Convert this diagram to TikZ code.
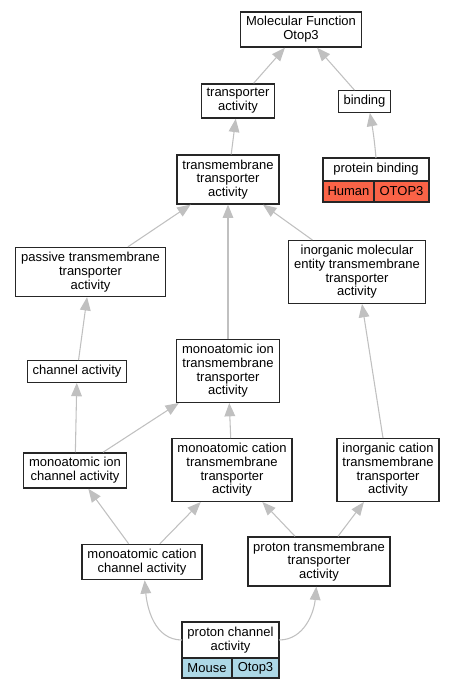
\documentclass[tikz,border=0pt]{standalone}
\usepackage{fontspec}
\setmainfont{Liberation Sans}
\usetikzlibrary{arrows.meta,positioning}
\definecolor{edgegray}{RGB}{192,192,192}
\definecolor{humanred}{RGB}{250,99,71}
\definecolor{mouseblue}{RGB}{173,216,230}

\begin{document}
\begin{tikzpicture}[x=0.75pt,y=-0.75pt,->,>={Triangle[length=10pt,width=8pt]},
      every edge/.style={draw=edgegray,line width=0.8pt},
      term/.style={draw=black!85,line width=1pt,fill=white,align=center,
        inner xsep=4pt,inner ysep=3.5pt,font=\fontsize{9.75}{10.3}\selectfont},
      cell/.style={term,inner sep=0pt,outer sep=0pt,anchor=north west}]
    \useasboundingbox (0,0) rectangle (455,691);
    \node[term] (mf) at (301,29.5) {Molecular Function\\Otop3};
    \node[term] (ta) at (238,101) {transporter\\activity};
    \node[term] (bind) at (364.5,101.5) {binding};
    \node[term,minimum width=79.5pt,minimum height=17.25pt,inner sep=0pt,outer sep=0pt] (pb) at (376,169.5) {protein binding};
    \node[cell,fill=humanred,minimum width=38.25pt,minimum height=15.75pt] (pbh) at (pb.south west) {Human};
    \node[cell,fill=humanred,minimum width=41.25pt,minimum height=15.75pt] (pbg) at (pbh.north east) {OTOP3};
    \node[term] (tta) at (228,179.5) {transmembrane\\transporter\\activity};
    \node[term] (pas) at (90.5,272) {passive transmembrane\\transporter\\activity};
    \node[term] (imt) at (357,272) {inorganic molecular\\entity transmembrane\\transporter\\activity};
    \node[term] (chan) at (77,371.5) {channel activity};
    \node[term] (mit) at (228,371) {monoatomic ion\\transmembrane\\transporter\\activity};
    \node[term] (mica) at (75,470.5) {monoatomic ion\\channel activity};
    \node[term] (mctt) at (232,470) {monoatomic cation\\transmembrane\\transporter\\activity};
    \node[term] (ict) at (388,470) {inorganic cation\\transmembrane\\transporter\\activity};
    \node[term] (mcca) at (142,562) {monoatomic cation\\channel activity};
    \node[term] (ptt) at (319,561.5) {proton transmembrane\\transporter\\activity};
    \node[term,minimum width=72.75pt,minimum height=27pt,inner sep=0pt,outer sep=0pt] (pca) at (230.5,640) {proton channel\\activity};
    \node[cell,fill=mouseblue,minimum width=37.5pt,minimum height=15pt] (pcam) at (pca.south west) {Mouse};
    \node[cell,fill=mouseblue,minimum width=35.25pt,minimum height=15pt] (pcag) at (pcam.north east) {Otop3};
    \path (ta) edge (mf)
          (bind) edge (mf)
          (pb.north) edge[out=95,in=-80] ([xshift=4pt]bind.south)
          (tta) edge (ta)
          (pas) edge (tta)
          (mit) edge (tta)
          (imt) edge (tta)
          (chan) edge (pas)
          (mica) edge (chan)
          (mica) edge (mit)
          (mctt) edge (mit)
          (ict) edge (imt)
          (mcca) edge (mica)
          (mcca) edge (mctt)
          (ptt) edge (mctt)
          (ptt) edge (ict)
          (pca.west) edge[out=180,in=-85] ([xshift=2pt]mcca.south)
          (pca.east) edge[out=0,in=-95] ([xshift=-2pt]ptt.south);
\end{tikzpicture}
\end{document}
